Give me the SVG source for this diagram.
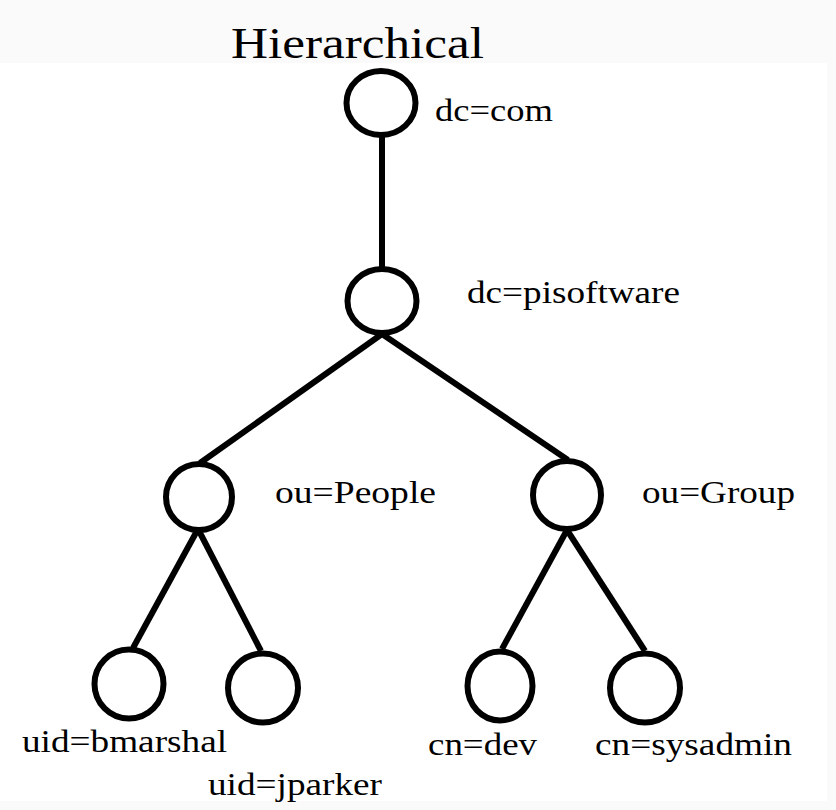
<svg xmlns="http://www.w3.org/2000/svg" width="836" height="810" viewBox="0 0 836 810">
<style>
.bg{fill:#fafafa}
.node ellipse{fill:#ffffff;stroke:#000000;stroke-width:6}
.edge{stroke:#000000;stroke-width:6;fill:none}
.lbl{font-family:"Liberation Serif","Times New Roman",Times,serif;font-size:32px;fill:#000000}
.title{font-family:"Liberation Serif","Times New Roman",Times,serif;font-size:44px;fill:#000000}
</style>
<rect x="0" y="0" width="836" height="810" fill="#ffffff"/>
<rect class="bg" x="0" y="0" width="836" height="63"/>
<rect class="bg" x="0" y="801" width="836" height="9"/>
<rect class="bg" x="827" y="0" width="9" height="810"/>
<text class="title" x="231" y="58" textLength="253" lengthAdjust="spacingAndGlyphs">Hierarchical</text>
<g id="connectors">
<line class="edge" x1="382" y1="136" x2="382" y2="268"/>
<line class="edge" x1="382" y1="334" x2="200" y2="463"/>
<line class="edge" x1="382" y1="334" x2="568" y2="460"/>
<line class="edge" x1="198" y1="529" x2="133" y2="648"/>
<line class="edge" x1="198" y1="529" x2="261" y2="651"/>
<line class="edge" x1="567" y1="530" x2="502" y2="649"/>
<line class="edge" x1="567" y1="530" x2="645" y2="651"/>
</g>
<g id="n-com" class="node">
<ellipse cx="381" cy="103" rx="34.5" ry="32"/>
<text class="lbl" x="435" y="121" textLength="118" lengthAdjust="spacingAndGlyphs">dc=com</text>
</g>
<g id="n-pisoftware" class="node">
<ellipse cx="382" cy="301" rx="34.5" ry="32"/>
<text class="lbl" x="467" y="303" textLength="213" lengthAdjust="spacingAndGlyphs">dc=pisoftware</text>
</g>
<g id="n-people" class="node">
<ellipse cx="199" cy="497" rx="33" ry="33"/>
<text class="lbl" x="275" y="503" textLength="161" lengthAdjust="spacingAndGlyphs">ou=People</text>
</g>
<g id="n-group" class="node">
<ellipse cx="567" cy="495" rx="34" ry="34"/>
<text class="lbl" x="642" y="503" textLength="153" lengthAdjust="spacingAndGlyphs">ou=Group</text>
</g>
<g id="n-bmarshal" class="node">
<ellipse cx="129" cy="684" rx="34.5" ry="34.5"/>
<text class="lbl" x="22" y="752" textLength="205" lengthAdjust="spacingAndGlyphs">uid=bmarshal</text>
</g>
<g id="n-jparker" class="node">
<ellipse cx="263" cy="688" rx="35" ry="34.5"/>
<text class="lbl" x="208" y="795" textLength="174" lengthAdjust="spacingAndGlyphs">uid=jparker</text>
</g>
<g id="n-dev" class="node">
<ellipse cx="500" cy="686" rx="32.5" ry="34.5"/>
<text class="lbl" x="428" y="755" textLength="109" lengthAdjust="spacingAndGlyphs">cn=dev</text>
</g>
<g id="n-sysadmin" class="node">
<ellipse cx="645" cy="688" rx="35" ry="34.5"/>
<text class="lbl" x="595" y="755" textLength="197" lengthAdjust="spacingAndGlyphs">cn=sysadmin</text>
</g>
</svg>
